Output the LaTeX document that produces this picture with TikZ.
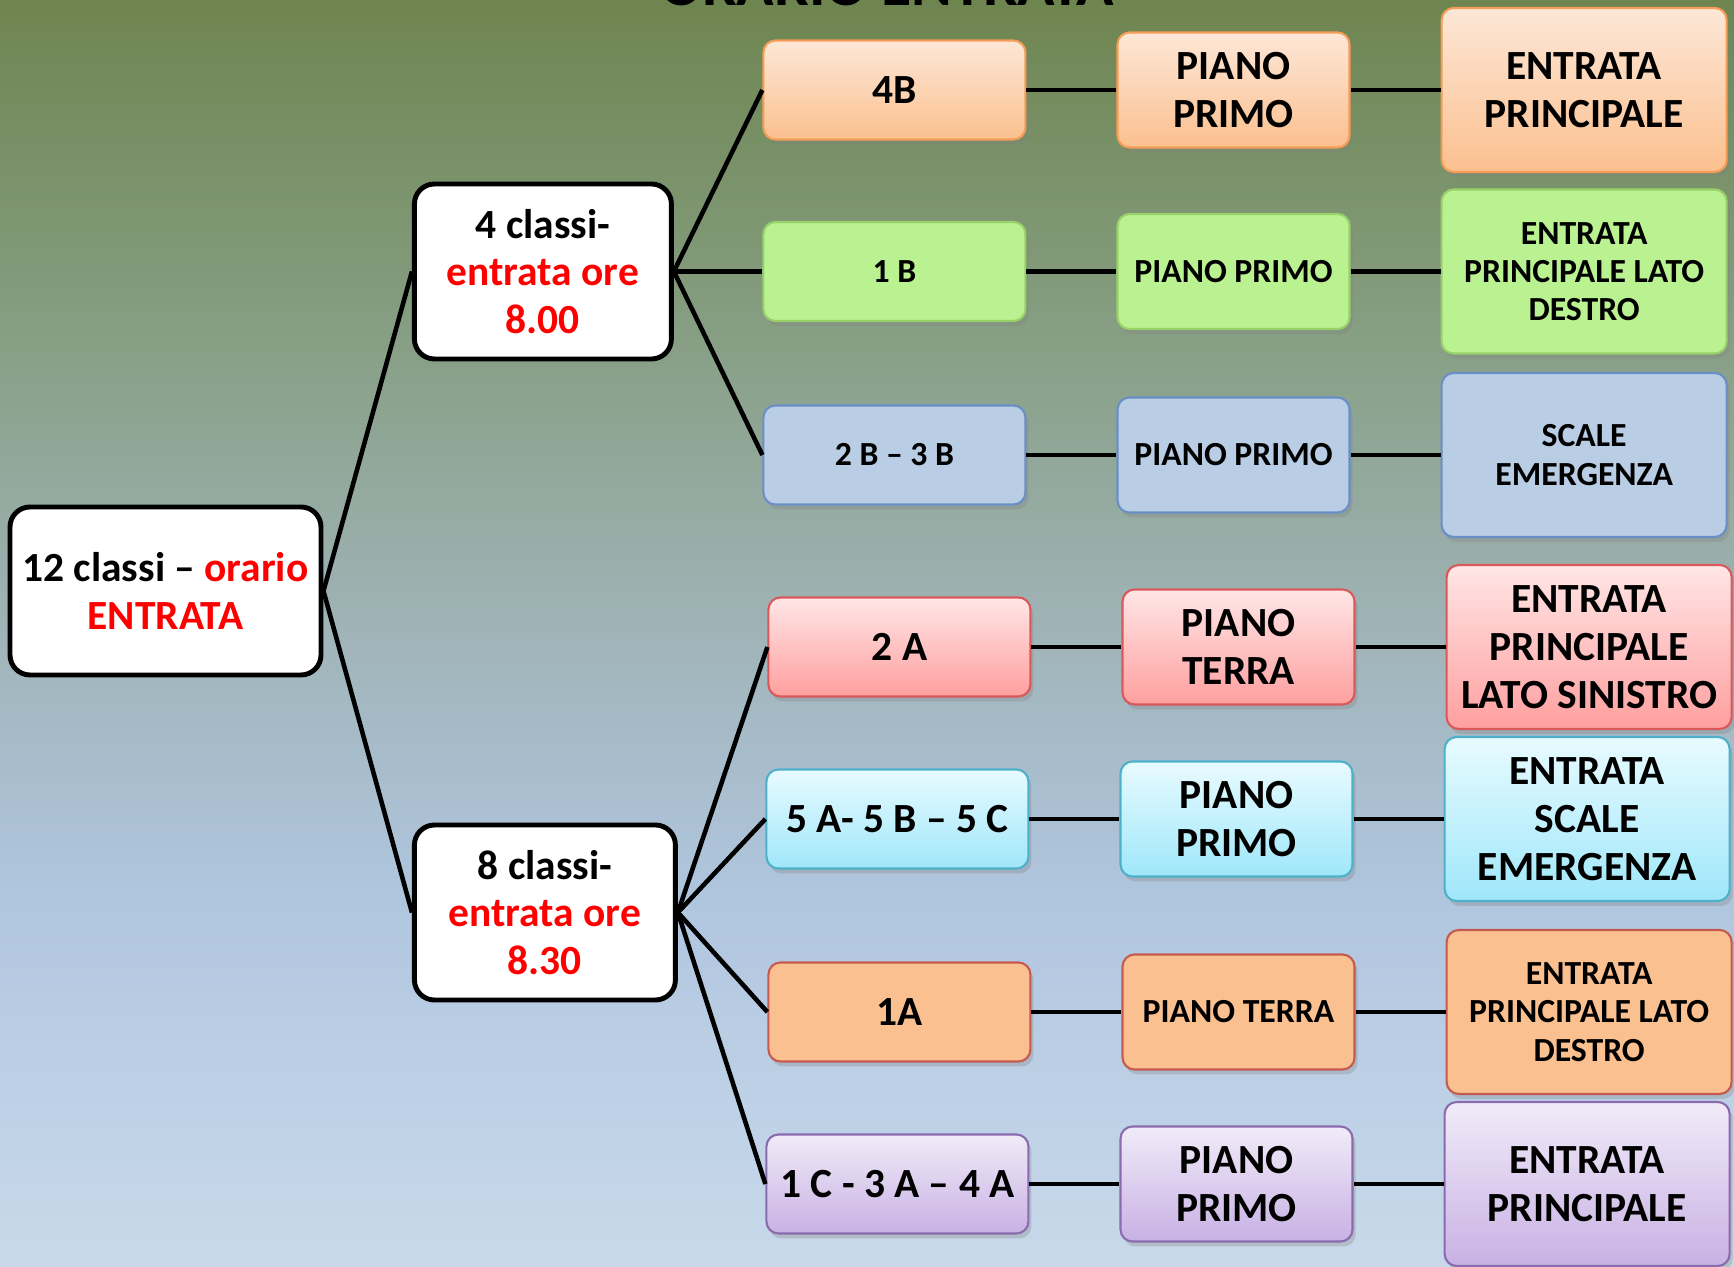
\documentclass[tikz,border=0pt]{standalone}
\usepackage{fontspec}
\setmainfont{Carlito}
\usetikzlibrary{positioning, shadows}

\definecolor{bgtop}{HTML}{6E8550}
\definecolor{bghigh}{HTML}{849C7E}
\definecolor{bgmid}{HTML}{A0B4B8}
\definecolor{bglow}{HTML}{B0C6DF}
\definecolor{bgbot}{HTML}{C9D9EB}
\definecolor{ortop}{HTML}{FDE7D7}
\definecolor{orbot}{HTML}{FBC08F}
\definecolor{orline}{HTML}{F59D56}
\definecolor{grfill}{HTML}{BBF291}
\definecolor{grline}{HTML}{98D16A}
\definecolor{blfill}{HTML}{B9CDE5}
\definecolor{blline}{HTML}{6A8FC6}
\definecolor{rdtop}{HTML}{FFE6E6}
\definecolor{rdbot}{HTML}{FF9F9F}
\definecolor{rdline}{HTML}{D9595B}
\definecolor{cytop}{HTML}{E8FBFF}
\definecolor{cybot}{HTML}{9FE7FA}
\definecolor{cyline}{HTML}{4FB0C9}
\definecolor{ortwo}{HTML}{FAC090}
\definecolor{ortwoline}{HTML}{C65A50}
\definecolor{putop}{HTML}{F1EBF8}
\definecolor{pubot}{HTML}{C8B1E4}
\definecolor{puline}{HTML}{8A6BAE}

\pgfdeclareverticalshading{backdrop}{100bp}{color(0bp)=(bgbot); color(25bp)=(bgbot); color(39.5bp)=(bglow); color(50bp)=(bgmid); color(63bp)=(bghigh); color(75bp)=(bgtop); color(100bp)=(bgtop)}

\begin{document}
\begin{tikzpicture}[node distance=0.90cm,
    bigtxt/.style={font=\bfseries\fontsize{11.8}{13.6}\selectfont},
    smalltxt/.style={font=\bfseries\fontsize{9.6}{10.9}\selectfont},
    wbox/.style={rectangle, draw=black, line width=1.4pt, fill=white, rounded corners=0.2cm, align=center, inner sep=1pt, minimum height=1.75cm, bigtxt},
    box/.style={rectangle, rounded corners=0.12cm, line width=0.6pt, align=center, inner sep=1pt,
        drop shadow={shadow xshift=0.03cm, shadow yshift=-0.05cm, opacity=0.3}},
    cls/.style={box, minimum width=2.62cm, minimum height=0.99cm},
    piano/.style={box, minimum width=2.32cm, minimum height=1.15cm},
    door/.style={box, minimum width=2.85cm, minimum height=1.64cm},
    orbox/.style={draw=orline, top color=ortop, bottom color=orbot},
    grbox/.style={draw=grline, fill=grfill},
    blbox/.style={draw=blline, fill=blfill},
    rdbox/.style={draw=rdline, top color=rdtop, bottom color=rdbot},
    cybox/.style={draw=cyline, top color=cytop, bottom color=cybot},
    otbox/.style={draw=ortwoline, fill=ortwo},
    pubox/.style={draw=puline, top color=putop, bottom color=pubot},
    conn/.style={draw=black, line width=1.3pt}]

    \shade[shading=backdrop] (0,0) rectangle (17.34,12.67);
    \useasboundingbox (0,0) rectangle (17.34,12.67);

    \node (title) [anchor=base, font=\bfseries\fontsize{17.6}{20}\selectfont] at (8.87,12.61) {ORARIO ENTRATA};

    \node (root) [wbox, minimum width=3.11cm, minimum height=1.68cm] at (1.655,6.76) {12 classi – \textcolor{red}{orario}\\\textcolor{red}{ENTRATA}};
    \node (g1) [wbox, minimum width=2.57cm, right=0.885cm of root, yshift=3.195cm] {4 classi-\\\textcolor{red}{entrata ore}\\\textcolor{red}{8.00}};
    \node (g2) [wbox, minimum width=2.61cm, right=0.885cm of root, yshift=-3.215cm] {8 classi-\\\textcolor{red}{entrata ore}\\\textcolor{red}{8.30}};

    %% classes
    \node (c1) [cls, orbox, bigtxt, right=0.885cm of g1, yshift=1.815cm] {4B};
    \node (c2) [cls, grbox, smalltxt, right=0.885cm of g1] {1 B};
    \node (c3) [cls, blbox, smalltxt, right=0.885cm of g1, yshift=-1.835cm] {2 B – 3 B};
    \node (c4) [cls, rdbox, bigtxt, right=0.895cm of g2, yshift=2.655cm] {2 A};
    \node (c5) [cls, cybox, bigtxt, right=0.875cm of g2, yshift=0.935cm] {5 A- 5 B – 5 C};
    \node (c6) [cls, otbox, bigtxt, right=0.895cm of g2, yshift=-0.995cm] {1A};
    \node (c7) [cls, pubox, bigtxt, right=0.875cm of g2, yshift=-2.715cm] {1 C - 3 A – 4 A};

    %% floors
    \node (p1) [piano, orbox, bigtxt, right=of c1] {PIANO\\PRIMO};
    \node (p2) [piano, grbox, smalltxt, right=of c2] {PIANO PRIMO};
    \node (p3) [piano, blbox, smalltxt, right=of c3] {PIANO PRIMO};
    \node (p4) [piano, rdbox, bigtxt, right=of c4] {PIANO\\TERRA};
    \node (p5) [piano, cybox, bigtxt, right=of c5] {PIANO\\PRIMO};
    \node (p6) [piano, otbox, smalltxt, right=of c6] {PIANO TERRA};
    \node (p7) [piano, pubox, bigtxt, right=of c7] {PIANO\\PRIMO};

    %% entrances
    \node (e1) [door, orbox, bigtxt, right=of p1] {ENTRATA\\PRINCIPALE};
    \node (e2) [door, grbox, smalltxt, right=of p2] {ENTRATA\\PRINCIPALE LATO\\DESTRO};
    \node (e3) [door, blbox, smalltxt, right=of p3] {SCALE\\EMERGENZA};
    \node (e4) [door, rdbox, bigtxt, right=of p4] {ENTRATA\\PRINCIPALE\\LATO SINISTRO};
    \node (e5) [door, cybox, bigtxt, right=of p5] {ENTRATA\\SCALE\\EMERGENZA};
    \node (e6) [door, otbox, smalltxt, right=of p6] {ENTRATA\\PRINCIPALE LATO\\DESTRO};
    \node (e7) [door, pubox, bigtxt, right=of p7] {ENTRATA\\PRINCIPALE};

    \draw[conn] (root.east) -- (g1.west);
    \draw[conn] (root.east) -- (g2.west);
    \foreach \i in {1,2,3}
        \draw[conn] (g1.east) -- (c\i.west);
    \foreach \i in {4,...,7}
        \draw[conn] (g2.east) -- (c\i.west);
    \foreach \i in {1,...,7}
        \draw[conn] (c\i) -- (p\i) -- (e\i);

\end{tikzpicture}
\end{document}
